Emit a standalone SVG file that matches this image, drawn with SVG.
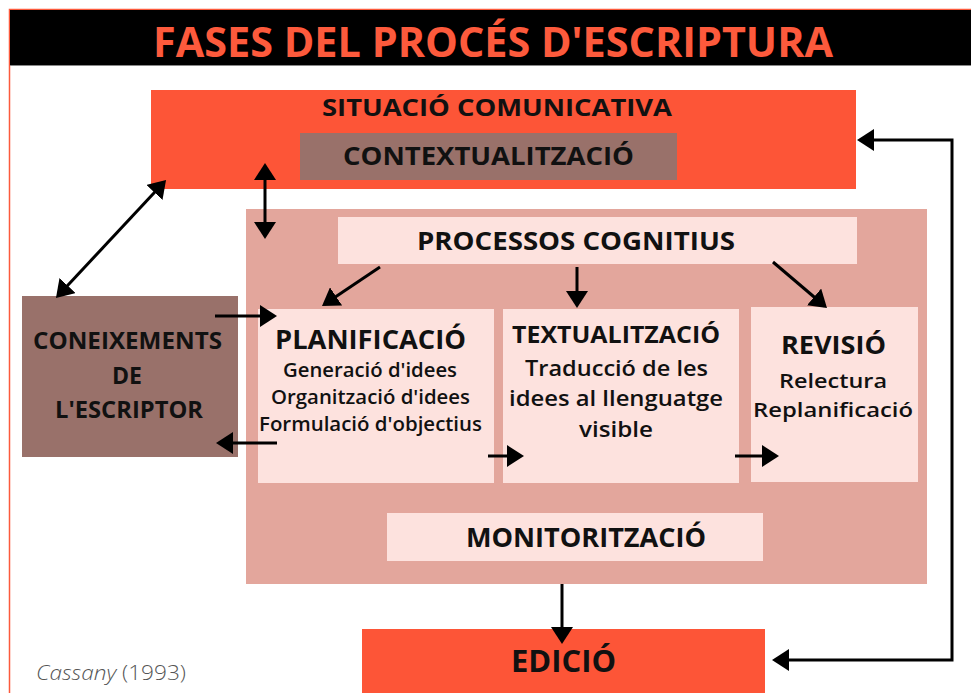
<svg xmlns="http://www.w3.org/2000/svg" width="971" height="693" viewBox="0 0 971 693">
<style>
.t{font-family:"Open Sans","Noto Sans","Liberation Sans",sans-serif;font-weight:700;fill:#111;text-anchor:middle}
.s{font-family:"Open Sans","Noto Sans","Liberation Sans",sans-serif;font-weight:650;fill:#111;text-anchor:middle}
.orange{fill:#fd5537}
.brown{fill:#99716a}
.pink{fill:#e3a69c}
.light{fill:#fde2de}
.ln{stroke:#000;stroke-width:3;fill:none}
</style>
<defs>
<marker id="ah" markerUnits="userSpaceOnUse" markerWidth="17" markerHeight="22" refX="14" refY="11" orient="auto-start-reverse" viewBox="0 0 17 22">
<path d="M0,0 L17,11 L0,22 z" fill="#000"/>
</marker>
</defs>
<rect x="0" y="0" width="971" height="693" fill="#fff"/>
<rect x="9.5" y="9.5" width="975" height="700" fill="none" stroke="#fc5a3c" stroke-width="1.5"/>
<g id="title">
<rect x="10" y="10" width="961" height="55" fill="#000"/>
<line x1="10" y1="65.5" x2="971" y2="65.5" stroke="#888" stroke-width="1"/>
<text x="493" y="57" font-family="Open Sans, Liberation Sans, sans-serif" font-weight="700" font-size="41" fill="#fd5a3c" text-anchor="middle" textLength="680" lengthAdjust="spacingAndGlyphs">FASES DEL PROCÉS D'ESCRIPTURA</text>
</g>
<g id="situacio">
<rect class="orange" x="151" y="90" width="705" height="99"/>
<text class="t" x="497" y="116" font-size="24" textLength="350" lengthAdjust="spacingAndGlyphs">SITUACIÓ COMUNICATIVA</text>
</g>
<g id="contextualitzacio">
<rect class="brown" x="300" y="133" width="377" height="47"/>
<text class="t" x="488.5" y="165" font-size="24.5" textLength="291" lengthAdjust="spacingAndGlyphs">CONTEXTUALITZACIÓ</text>
</g>
<g id="processos-area">
<rect class="pink" x="246" y="209" width="681" height="375"/>
</g>
<g id="processos">
<rect class="light" x="338" y="217" width="519" height="47"/>
<text class="t" x="576" y="250" font-size="24.5" textLength="318" lengthAdjust="spacingAndGlyphs">PROCESSOS COGNITIUS</text>
</g>
<g id="coneixements">
<rect class="brown" x="22" y="296" width="216" height="161"/>
<text class="t" x="127.5" y="349" font-size="23" textLength="189" lengthAdjust="spacingAndGlyphs">CONEIXEMENTS</text>
<text class="t" x="127" y="384" font-size="23" textLength="30" lengthAdjust="spacingAndGlyphs">DE</text>
<text class="t" x="129" y="418" font-size="23" textLength="148" lengthAdjust="spacingAndGlyphs">L'ESCRIPTOR</text>
</g>
<g id="planificacio">
<rect class="light" x="258" y="309" width="236" height="174"/>
<text class="t" x="370.5" y="348.5" font-size="26" textLength="191" lengthAdjust="spacingAndGlyphs">PLANIFICACIÓ</text>
<text class="s" x="370" y="377" font-size="19" textLength="174" lengthAdjust="spacingAndGlyphs">Generació d'idees</text>
<text class="s" x="370.5" y="404" font-size="19" textLength="199" lengthAdjust="spacingAndGlyphs">Organització d'idees</text>
<text class="s" x="370.5" y="431" font-size="19" textLength="223" lengthAdjust="spacingAndGlyphs">Formulació d'objectius</text>
</g>
<g id="textualitzacio">
<rect class="light" x="503" y="309" width="236" height="174"/>
<text class="t" x="616" y="343" font-size="23" textLength="208" lengthAdjust="spacingAndGlyphs">TEXTUALITZACIÓ</text>
<text class="s" x="616.5" y="375.5" font-size="21" textLength="183" lengthAdjust="spacingAndGlyphs">Traducció de les</text>
<text class="s" x="616" y="406" font-size="21" textLength="214" lengthAdjust="spacingAndGlyphs">idees al llenguatge</text>
<text class="s" x="616" y="437" font-size="21" textLength="74" lengthAdjust="spacingAndGlyphs">visible</text>
</g>
<g id="revisio">
<rect class="light" x="751" y="307" width="167" height="175"/>
<text class="t" x="833.5" y="354" font-size="25" textLength="105" lengthAdjust="spacingAndGlyphs">REVISIÓ</text>
<text class="s" x="833" y="388" font-size="20" textLength="108" lengthAdjust="spacingAndGlyphs">Relectura</text>
<text class="s" x="833" y="417" font-size="20" textLength="160" lengthAdjust="spacingAndGlyphs">Replanificació</text>
</g>
<g id="monitoritzacio">
<rect class="light" x="387" y="513" width="376" height="48"/>
<text class="t" x="586" y="547" font-size="26" textLength="240" lengthAdjust="spacingAndGlyphs">MONITORITZACIÓ</text>
</g>
<g id="edicio">
<rect class="orange" x="362" y="629" width="403" height="70"/>
<text class="t" x="563.5" y="672" font-size="31" textLength="105" lengthAdjust="spacingAndGlyphs">EDICIÓ</text>
</g>
<g id="connectors">
<line class="ln" x1="265" y1="166" x2="265" y2="236" marker-start="url(#ah)" marker-end="url(#ah)"/>
<line class="ln" x1="58" y1="295.8" x2="164" y2="182.2" marker-start="url(#ah)" marker-end="url(#ah)"/>
<line class="ln" x1="380" y1="267" x2="324.5" y2="304.3" marker-end="url(#ah)"/>
<line class="ln" x1="577" y1="267" x2="577" y2="305" marker-end="url(#ah)"/>
<line class="ln" x1="773" y1="262" x2="824.7" y2="306" marker-end="url(#ah)"/>
<line class="ln" x1="215" y1="316" x2="274" y2="316" marker-end="url(#ah)"/>
<line class="ln" x1="277" y1="443" x2="219" y2="443" marker-end="url(#ah)"/>
<line class="ln" x1="488" y1="456" x2="521" y2="456" marker-end="url(#ah)"/>
<line class="ln" x1="735" y1="456" x2="776" y2="456" marker-end="url(#ah)"/>
<line class="ln" x1="562" y1="584" x2="562" y2="641" marker-end="url(#ah)"/>
<path class="ln" d="M775,660 L952,660 L952,140 L860,140" marker-start="url(#ah)" marker-end="url(#ah)"/>
</g>
<g id="credit">
<text x="36" y="680" font-family="Open Sans, Liberation Sans, sans-serif" font-weight="300" font-size="20" fill="#555" textLength="150" lengthAdjust="spacingAndGlyphs"><tspan font-style="italic">Cassany</tspan> (1993)</text>
</g>
</svg>
